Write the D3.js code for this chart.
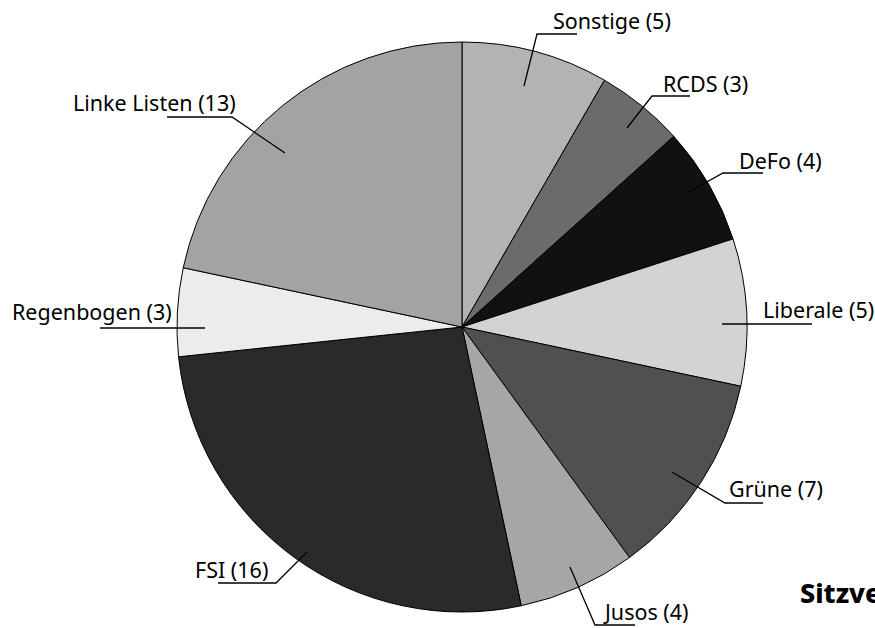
<!DOCTYPE html>
<html>
<head>
<meta charset="utf-8">
<script src="https://cdn.jsdelivr.net/npm/d3@7"></script>
<style>
  body { margin: 0; background: #fff; }
  text { font-family: "Noto Sans", "Open Sans", sans-serif; }
</style>
</head>
<body>
<div id="chart"></div>
<script>
// seats per list, clockwise from 12 o'clock
let parties = ["Sonstige", "RCDS", "DeFo", "Liberale", "Grüne", "Jusos", "FSI", "Regenbogen", "Linke Listen"];
let seats = [5, 3, 4, 5, 7, 4, 16, 3, 13];
let colors = ["#b3b3b3", "#6b6b6b", "#111111", "#d3d3d3", "#505050", "#a6a6a6", "#2a2a2a", "#ececec", "#a3a3a3"];
let title = "Sitzverteilung";

let w = 875;
let h = 628;
let cx = 462, cy = 327, r = 285;

// label layout: start inside the slice, elbow of the leader line, end of the underline, text start
let labelLayout = {
  "Sonstige":     { start: [524, 86],  elbow: [537, 34],  end: 577, tx: 553, ty: 29 },
  "RCDS":         { start: [627, 128], elbow: [652, 96],  end: 690, tx: 663, ty: 92 },
  "DeFo":         { start: [687, 193], elbow: [723, 173], end: 763, tx: 739, ty: 169 },
  "Liberale":     { start: [722, 324], elbow: [722, 324], end: 812, tx: 763, ty: 318 },
  "Grüne":        { start: [672, 472], elbow: [725, 503], end: 763, tx: 729, ty: 497 },
  "Jusos":        { start: [570, 567], elbow: [595, 625], end: 635, tx: 605, ty: 620 },
  "FSI":          { start: [307, 552], elbow: [276, 583], end: 218, tx: 195, ty: 578 },
  "Regenbogen":   { start: [205, 328], elbow: [205, 328], end: 100, tx: 12,  ty: 320 },
  "Linke Listen": { start: [285, 153], elbow: [232, 117], end: 167, tx: 73,  ty: 111 }
};

let data = parties.map((p, i) => ({ name: p, seats: seats[i], color: colors[i] }));

let svg = d3.select("#chart")
  .append("svg")
  .attr("width", w)
  .attr("height", h);

let pie = d3.pie().value(d => d.seats).sort(null);
let arcs = pie(data);

let arc = d3.arc().innerRadius(0).outerRadius(r);

let g = svg.append("g").attr("transform", `translate(${cx},${cy})`);

g.selectAll("path.slice")
  .data(arcs)
  .enter()
  .append("path")
  .attr("class", "slice")
  .attr("d", arc)
  .attr("fill", d => d.data.color)
  .attr("stroke", "#000")
  .attr("stroke-width", 1);

// leader lines
svg.selectAll("polyline.leader")
  .data(arcs)
  .enter()
  .append("polyline")
  .attr("class", "leader")
  .attr("fill", "none")
  .attr("stroke", "#000")
  .attr("stroke-width", 1.3)
  .attr("points", d => {
    let L = labelLayout[d.data.name];
    return [L.start, L.elbow, [L.end, L.elbow[1]]].map(p => p.join(",")).join(" ");
  });

svg.selectAll("text.label")
  .data(arcs)
  .enter()
  .append("text")
  .attr("class", "label")
  .attr("x", d => labelLayout[d.data.name].tx)
  .attr("y", d => labelLayout[d.data.name].ty)
  .attr("font-size", 21.5)
  .attr("fill", "#000")
  .text(d => `${d.data.name} (${d.data.seats})`);

svg.append("text")
  .attr("x", 800)
  .attr("y", 603)
  .attr("font-size", 27)
  .attr("font-weight", 800)
  .attr("fill", "#000")
  .text(title);
</script>
</body>
</html>
